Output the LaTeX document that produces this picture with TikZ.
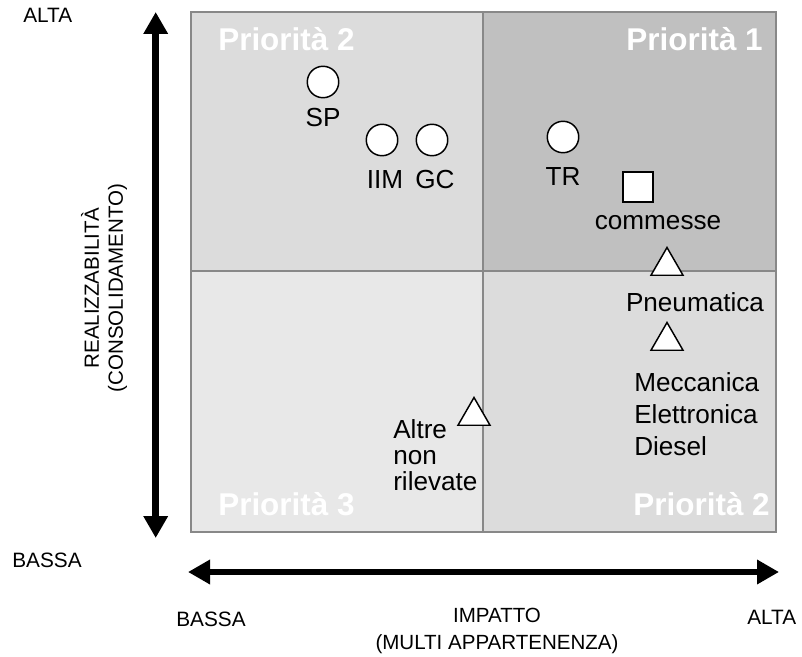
\documentclass[tikz,border=0pt]{standalone}
\usepackage{fontspec}
\setmainfont{Liberation Sans}
\usetikzlibrary{arrows.meta,shapes.geometric}

\definecolor{cellmid}{HTML}{DCDCDC}
\definecolor{celldark}{HTML}{C0C0C0}
\definecolor{celllight}{HTML}{E8E8E8}
\definecolor{gridline}{HTML}{888888}

\tikzset{
  axislabel/.style={inner sep=0pt, font=\fontsize{15.6}{18}\selectfont},
  axistitle/.style={inner sep=0pt, align=center, font=\fontsize{15.4}{20.5}\selectfont},
  itemlabel/.style={inner sep=0pt, font=\fontsize{19.6}{24}\selectfont},
  prio/.style={inner sep=0pt, text=white, font=\bfseries\fontsize{23.6}{28}\selectfont},
  cell/.style={draw=gridline, line width=1.5pt},
  mark circle/.style={circle, draw=black, fill=white, line width=1.1pt, inner sep=0pt, minimum size=23.6pt},
  mark square/.style={rectangle, draw=black, fill=white, line width=1.1pt, inner sep=0pt, minimum size=22.5pt},
  mark triangle/.style={regular polygon, regular polygon sides=3, draw=black, fill=white, line width=1.1pt, inner sep=0pt, minimum size=27.75pt},
  axisarrows/.style={line width=4.9pt, {Triangle[length=16.5pt, width=17.5pt]}-{Triangle[length=16.5pt, width=17.5pt]}},
}

\begin{document}
\begin{tikzpicture}[x=0.75pt, y=-0.75pt]
\useasboundingbox (0,0) rectangle (802,656);

% quadrants
\fill[cellmid]   (191,12)  rectangle (483,271);
\fill[celldark]  (483,12)  rectangle (776,271);
\fill[celllight] (191,271) rectangle (483,532);
\fill[cellmid]   (483,271) rectangle (776,532);
\draw[cell] (191,12) rectangle (776,532);
\draw[cell] (483,12) -- (483,532);
\draw[cell] (191,271) -- (776,271);

% priority labels
\node[prio, anchor=base west] (p2a) at (218,51)  {Priorità 2};
\node[prio, anchor=base east] (p1)  at (763,51)  {Priorità 1};
\node[prio, anchor=base west] (p3)  at (218,515) {Priorità 3};
\node[prio, anchor=base east] (p2b) at (770,515) {Priorità 2};

% axes
\coordinate (ybot) at (155.7,538);
\coordinate (ytop) at (155.7,12);
\coordinate (xleft) at (188,572);
\coordinate (xright) at (779,572);
\draw[axisarrows] (ybot) -- (ytop);
\draw[axisarrows] (xleft) -- (xright);

\node[axislabel, anchor=west] (yhigh) at (23,15.5) {ALTA};
\node[axislabel, anchor=west] (ylow)  at (12,560)  {BASSA};
\node[axislabel, anchor=west] (xlow)  at (176,619) {BASSA};
\node[axislabel, anchor=west] (xhigh) at (747,617) {ALTA};
\node[axistitle] (xtitle) at (497,631) {IMPATTO\\(MULTI APPARTENENZA)};
\node[axistitle, rotate=90, font=\fontsize{15.4}{18}\selectfont] (ytitle) at (104,288) {REALIZZABILITÀ\\(CONSOLIDAMENTO)};

% markers
\node[mark circle] (sp)  at (323,82)  {};
\node[mark circle] (iim) at (382,140) {};
\node[mark circle] (gc)  at (432,140) {};
\node[mark circle] (tr)  at (563,137) {};
\node[mark square] (com) at (638,187) {};
\node[mark triangle] (pn)  at (667,266) {};
\node[mark triangle] (mec) at (667,341) {};
\node[mark triangle] (alt) at (474,416) {};

% marker labels
\node[itemlabel] (spl)  at (323,118) {SP};
\node[itemlabel] (iiml) at (385,180) {IIM};
\node[itemlabel] (gcl)  at (435,180) {GC};
\node[itemlabel] (trl)  at (563,177) {TR};
\node[itemlabel] (coml) at (658,223) {commesse};
\node[itemlabel] (pnl)  at (695,302) {Pneumatica};
\node[itemlabel, anchor=west, align=left] (mecl) at (634,414) {Meccanica\\Elettronica\\Diesel};
\node[itemlabel, anchor=west, align=left, font=\fontsize{19.6}{19.5}\selectfont] (altl) at (393,455) {Altre\\non\\rilevate};
\end{tikzpicture}
\end{document}
